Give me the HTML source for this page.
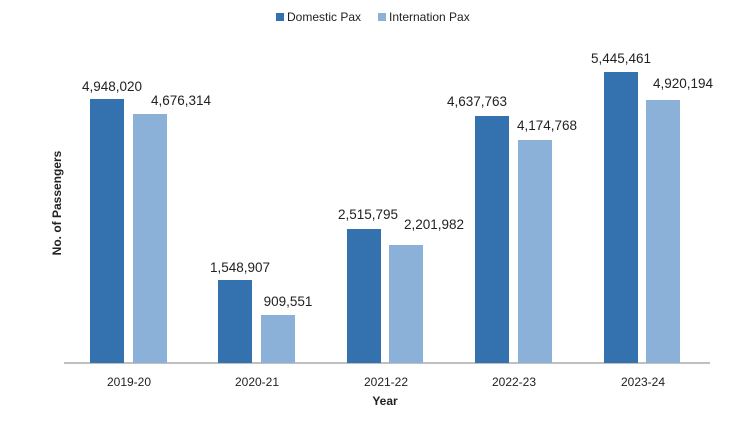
<!DOCTYPE html>
<html><head><style>body{margin:0;background:#fff}svg{display:block}text{font-family:"Liberation Sans",sans-serif;fill:#222}</style></head>
<body>
<svg width="734" height="422" viewBox="0 0 734 422">
<rect x="276" y="13" width="8" height="8" fill="#3372ae"/>
<text x="287" y="21" font-size="12">Domestic Pax</text>
<rect x="378" y="13" width="8" height="8" fill="#8cb1d8"/>
<text x="389" y="21" font-size="12">Internation Pax</text>
<line x1="64" y1="363" x2="710" y2="363" stroke="#aaa" stroke-width="1.5"/>
<g font-size="13.5">
<rect x="90" y="99" width="34" height="264" fill="#3372ae"/><rect x="133" y="114" width="34" height="249" fill="#8cb1d8"/>
<text x="112" y="91" text-anchor="middle">4,948,020</text><text x="181" y="105" text-anchor="middle">4,676,314</text>
<rect x="218" y="280" width="34" height="83" fill="#3372ae"/><rect x="261" y="315" width="34" height="48" fill="#8cb1d8"/>
<text x="240" y="272" text-anchor="middle">1,548,907</text><text x="288" y="306" text-anchor="middle">909,551</text>
<rect x="347" y="229" width="34" height="134" fill="#3372ae"/><rect x="389" y="245" width="34" height="118" fill="#8cb1d8"/>
<text x="368" y="219" text-anchor="middle">2,515,795</text><text x="434" y="229" text-anchor="middle">2,201,982</text>
<rect x="475" y="116" width="34" height="247" fill="#3372ae"/><rect x="518" y="140" width="34" height="223" fill="#8cb1d8"/>
<text x="477" y="106" text-anchor="middle">4,637,763</text><text x="547" y="130" text-anchor="middle">4,174,768</text>
<rect x="604" y="72" width="34" height="291" fill="#3372ae"/><rect x="646" y="100" width="34" height="263" fill="#8cb1d8"/>
<text x="621" y="63" text-anchor="middle">5,445,461</text><text x="683" y="88" text-anchor="middle">4,920,194</text>
</g>
<g font-size="12">
<text x="129" y="386" text-anchor="middle">2019-20</text>
<text x="257" y="386" text-anchor="middle">2020-21</text>
<text x="386" y="386" text-anchor="middle">2021-22</text>
<text x="514" y="386" text-anchor="middle">2022-23</text>
<text x="643" y="386" text-anchor="middle">2023-24</text>
</g>
<text x="385" y="405" font-size="12" font-weight="bold" text-anchor="middle">Year</text>
<text transform="translate(61,203) rotate(-90)" font-size="12" font-weight="bold" text-anchor="middle">No. of Passengers</text>
</svg>
</body></html>
